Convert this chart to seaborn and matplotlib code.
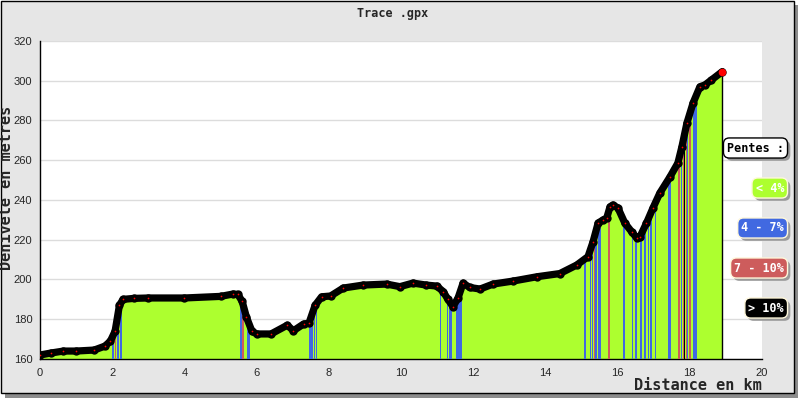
import matplotlib
matplotlib.use('Agg')
import matplotlib.pyplot as plt
import matplotlib.patheffects as pe
import seaborn as sns
import pandas as pd
from matplotlib.patches import Rectangle
from matplotlib.ticker import MultipleLocator

# elevation profile (km, m)
dist = [0, 0.3, 0.65, 1.0, 1.5, 1.8, 1.95, 2.08, 2.2, 2.3,
        2.6, 3.0, 4.0, 5.0, 5.35, 5.48, 5.6, 5.72, 5.87, 6.0,
        6.4, 6.85, 7.02, 7.3, 7.45, 7.62, 7.8, 8.05, 8.4, 8.95,
        9.6, 9.97, 10.33, 10.7, 10.99, 11.17, 11.3, 11.44, 11.58, 11.72,
        11.9, 12.19, 12.55, 13.1, 13.77, 14.4, 14.87, 15.18, 15.32, 15.46,
        15.6, 15.7, 15.79, 15.87, 16.01, 16.2, 16.39, 16.53, 16.62, 16.8,
        16.98, 17.17, 17.45, 17.67, 17.78, 17.92, 18.09, 18.28, 18.42, 18.6,
        18.9]
elev = [162, 163, 164, 164, 164.5, 166.5, 169, 174, 187, 190,
        190.5, 190.7, 190.7, 191.5, 192.7, 192.5, 189, 181, 174, 172.6,
        172.6, 177, 174.2, 177.6, 178, 187, 191.3, 191.7, 195.7, 197.2,
        197.7, 196.4, 198.2, 197.2, 196.7, 193.9, 190, 186.3, 190.7, 198.2,
        196, 195.2, 197.7, 199.2, 201.4, 203, 207.3, 211.5, 219, 228.4,
        230, 231, 236.6, 237.5, 236, 228.4, 224, 220.9, 221.5, 228.4,
        236, 243.5, 251.6, 258.6, 266.7, 278.7, 288.8, 297, 297.9, 300.4,
        304.6]

# slope bands: centre (km) and width (km)
blue_x = [2.02, 2.16, 2.24, 5.57, 5.78, 7.50, 7.60, 7.67, 11.10, 11.29,
          11.37, 11.60, 15.09, 15.25, 15.30, 15.40, 15.50, 16.17, 16.42, 16.50,
          16.65, 16.76, 16.85, 16.93, 17.05, 17.44, 17.78, 17.94, 18.15]
blue_w = [0.05, 0.04, 0.04, 0.06, 0.08, 0.12, 0.03, 0.03, 0.03, 0.03,
          0.08, 0.16, 0.05, 0.03, 0.03, 0.05, 0.08, 0.05, 0.03, 0.06,
          0.05, 0.08, 0.04, 0.07, 0.03, 0.10, 0.03, 0.03, 0.12]
red_x = [2.09, 5.63, 15.35, 15.76, 17.70, 17.76, 17.82, 17.90, 17.98, 18.03]
red_w = [0.05, 0.05, 0.03, 0.06, 0.03, 0.02, 0.03, 0.03, 0.03, 0.03]
black_x = [17.86]
black_w = [0.02]

legend_labels = ['< 4%', '4 - 7%', '7 - 10%', '> 10%']
legend_colors = ['#adff2f', '#4169e1', '#cd5c5c', '#000000']

df = pd.DataFrame({'dist': dist, 'elev': elev})

sns.set_style('white')
plt.rcParams['font.family'] = ['DejaVu Sans Mono']

fig = plt.figure(figsize=(8, 4), dpi=100)
fig.patch.set_facecolor('white')

# frame with shadow
fig.patches.append(Rectangle((5 / 800, 1 - 398 / 400), 793 / 800, 393 / 400,
                             transform=fig.transFigure, fc='#8c8c8c', ec='none', zorder=-2))
fig.patches.append(Rectangle((0.5 / 800, 1 - 393 / 400), 793 / 800, 392.5 / 400,
                             transform=fig.transFigure, fc='#e6e6e6', ec='black', lw=1, zorder=-1))

ax = fig.add_axes([40 / 800, 41 / 400, 722 / 800, 318 / 400])
ax.set_facecolor('white')

# green fill under profile
fill = ax.fill_between(df['dist'], 160, df['elev'], color='#adff2f', lw=0, zorder=2)
clip_path = fill.get_paths()[0]

# coloured slope bands, clipped to the profile
for xs, ws, col in [(blue_x, blue_w, '#4169e1'), (red_x, red_w, '#cd5c5c'),
                    (black_x, black_w, '#000000')]:
    bars = ax.bar(xs, 160, width=ws, bottom=160, color=col, lw=0, zorder=3)
    for b in bars:
        b.set_clip_path(clip_path, fill.get_transform())

ax.plot([dist[-1], dist[-1]], [160, elev[-1]], color='black', lw=1, zorder=4)

# thick black profile with red points
sns.lineplot(data=df, x='dist', y='elev', color='black', lw=5.2, marker='o',
             markersize=6, markeredgewidth=0, solid_capstyle='round', ax=ax, zorder=5)
sns.scatterplot(data=df, x='dist', y='elev', color='red', s=1.5, lw=0, ax=ax, zorder=6)
ax.scatter(dist[-1:], elev[-1:], color='red', s=30, lw=0, zorder=7)

ax.set_xlim(0, 20)
ax.set_ylim(160, 320)
ax.set_xlabel('')
ax.set_ylabel('')
ax.xaxis.set_major_locator(MultipleLocator(2))
ax.xaxis.set_minor_locator(MultipleLocator(1))
ax.yaxis.set_major_locator(MultipleLocator(20))
ax.yaxis.set_minor_locator(MultipleLocator(10))
ax.grid(axis='y', which='major', color='#dcdcdc', lw=1)
ax.set_axisbelow(True)
for t in ax.get_yticklabels() + ax.get_xticklabels():
    t.set_fontfamily('Liberation Sans')
ax.tick_params(which='both', direction='in', color='black', width=0.8, labelsize=8)
ax.tick_params(axis='x', which='both', length=4, pad=6.5)
ax.tick_params(axis='y', which='both', length=3, pad=5.5)
for s in ['top', 'right']:
    ax.spines[s].set_visible(False)
for s in ['left', 'bottom']:
    ax.spines[s].set_color('black')
    ax.spines[s].set_linewidth(1)

# titles
fig.text(393 / 800, 1 - 14 / 400, 'Trace .gpx', ha='center', va='center',
         fontsize=8.5, fontweight='bold')
fig.text(7 / 800, 1 - 188 / 400, 'Dénivelé en metres', ha='center', va='center',
         rotation=90, fontsize=11, fontweight='bold')
fig.text(762 / 800, 1 - 386 / 400, 'Distance en km', ha='right', va='center',
         fontsize=11, fontweight='bold')

# legend boxes with drop shadow
def label_box(x, y, text, fc, tc, ec):
    t = fig.text(x, y, text, ha='right', va='center', fontsize=8.5, fontweight='bold',
                 color=tc, bbox=dict(boxstyle='round,pad=0.3,rounding_size=0.5',
                                     fc=fc, ec=ec, lw=1))
    t.get_bbox_patch().set_path_effects(
        [pe.SimplePatchShadow(offset=(2, -2), shadow_rgbFace='#9a9a9a', alpha=1), pe.Normal()])

label_box(784 / 800, 1 - 148 / 400, 'Pentes :', 'white', 'black', 'black')
for i, (lab, col) in enumerate(zip(legend_labels, legend_colors)):
    label_box(784 / 800, 1 - (188 + 40 * i) / 400, lab, col, 'white', '#fff8dc')

fig.savefig('out.png', dpi=100)
